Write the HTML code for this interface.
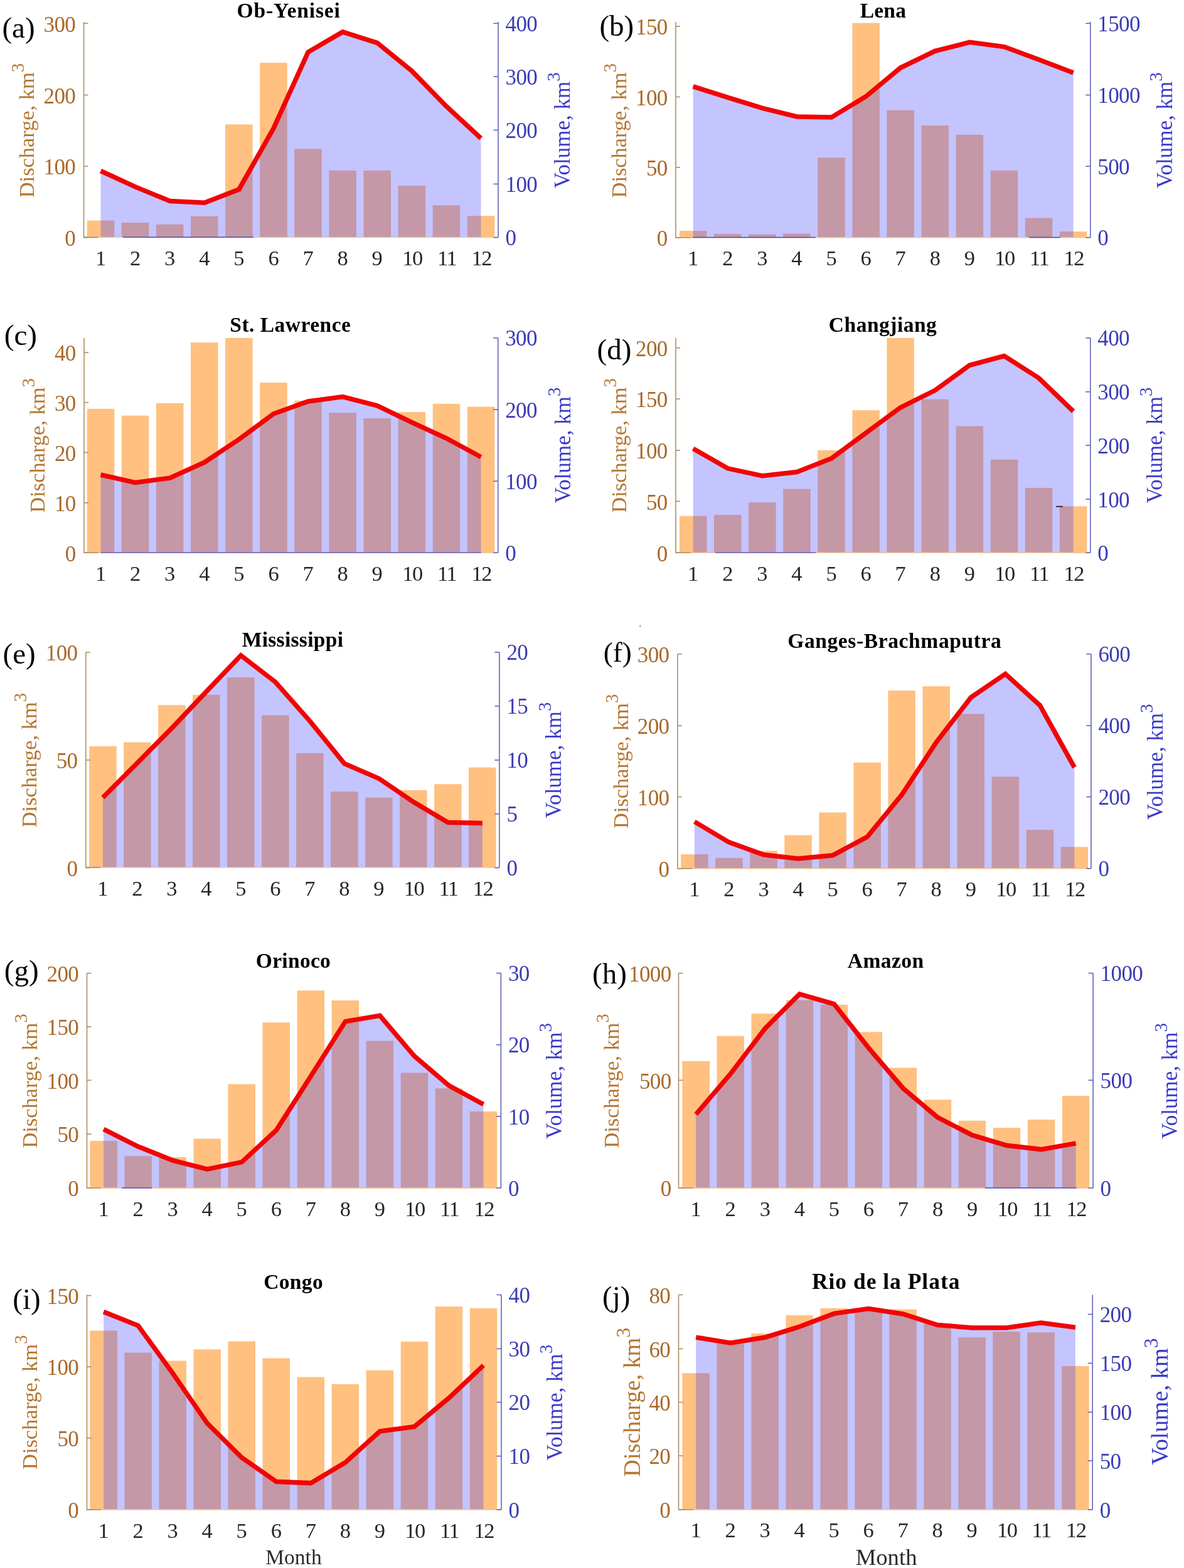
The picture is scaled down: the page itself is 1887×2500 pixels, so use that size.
<!DOCTYPE html>
<html lang="en"><head><meta charset="utf-8"><title>River discharge and volume by month</title>
<style>
html,body{margin:0;padding:0;background:#fff;}
svg{display:block;}
text{font-family:"Liberation Serif","DejaVu Serif",serif;}
.t{font-weight:bold;font-size:33.5px;fill:#000;text-anchor:middle;}
.g{font-size:47px;fill:#000;}
.x{font-size:34.5px;fill:#262626;text-anchor:middle;}
.l{font-size:35px;letter-spacing:-0.6px;fill:#a9692a;text-anchor:end;}
.r{font-size:35px;letter-spacing:-0.6px;fill:#3c3cb4;text-anchor:start;}
.yl{font-size:34.4px;fill:#b47630;text-anchor:middle;}
.yr{font-size:35px;fill:#3a3ac8;text-anchor:middle;}
.m{font-size:35px;fill:#2a2a2a;text-anchor:middle;}
.s{font-size:29px;}
</style></head><body>
<svg width="1887" height="2500" viewBox="0 0 1887 2500">
<rect width="1887" height="2500" fill="#fff"/>
<g>
<rect x="138.8" y="351.6" width="43.5" height="26.8" fill="#ffc080"/>
<rect x="193.8" y="355" width="43.5" height="23.4" fill="#ffc080"/>
<rect x="248.9" y="357.8" width="43.5" height="20.6" fill="#ffc080"/>
<rect x="304" y="344.8" width="43.5" height="33.6" fill="#ffc080"/>
<rect x="359.1" y="198.4" width="43.5" height="180" fill="#ffc080"/>
<rect x="414.2" y="100.1" width="43.5" height="278.3" fill="#ffc080"/>
<rect x="469.3" y="237.4" width="43.5" height="141" fill="#ffc080"/>
<rect x="524.4" y="271.9" width="43.5" height="106.5" fill="#ffc080"/>
<rect x="579.5" y="271.9" width="43.5" height="106.5" fill="#ffc080"/>
<rect x="634.6" y="296.2" width="43.5" height="82.2" fill="#ffc080"/>
<rect x="689.7" y="327.3" width="43.5" height="51.1" fill="#ffc080"/>
<rect x="744.8" y="344.2" width="43.5" height="34.2" fill="#ffc080"/>
<polygon points="160.5,378.4 160.5,272.5 215.6,297.9 270.7,320.5 325.8,323.3 380.9,301.9 436,204.6 491,83.1 546.1,50.9 601.2,68.4 656.3,113.1 711.4,169.6 766.5,220.5 766.5,378.4" fill="rgba(60,60,255,0.30)"/>
<path d="M133.5 378.4H794" stroke="#f3c596" stroke-width="1.4"/>
<path d="M133.5 35V378.4H156.5" fill="none" stroke="#b08d60" stroke-width="1.6"/>
<path d="M794 35V378.4" fill="none" stroke="#6262bc" stroke-width="1.6"/>
<path d="M196 378.2H404" stroke="#3434c8" stroke-opacity="0.85" stroke-width="1.4"/>
<path d="M133.5 378.7h7" stroke="#b08d60" stroke-width="1.6"/>
<text class="l" x="120.2" y="391.9">0</text>
<path d="M133.5 265.1h7" stroke="#b08d60" stroke-width="1.6"/>
<text class="l" x="120.2" y="278.3">100</text>
<path d="M133.5 151.5h7" stroke="#b08d60" stroke-width="1.6"/>
<text class="l" x="120.2" y="164.7">200</text>
<path d="M133.5 37.3h7" stroke="#b08d60" stroke-width="1.6"/>
<text class="l" x="120.2" y="50.5">300</text>
<path d="M794 378.7h-7.5" stroke="#6262bc" stroke-width="1.6"/>
<text class="r" x="805.5" y="391.2">0</text>
<path d="M794 293.4h-7.5" stroke="#6262bc" stroke-width="1.6"/>
<text class="r" x="805.5" y="305.9">100</text>
<path d="M794 207.5h-7.5" stroke="#6262bc" stroke-width="1.6"/>
<text class="r" x="805.5" y="220">200</text>
<path d="M794 122.1h-7.5" stroke="#6262bc" stroke-width="1.6"/>
<text class="r" x="805.5" y="134.6">300</text>
<path d="M794 37.3h-7.5" stroke="#6262bc" stroke-width="1.6"/>
<text class="r" x="805.5" y="49.8">400</text>
<polyline points="160.5,272.5 215.6,297.9 270.7,320.5 325.8,323.3 380.9,301.9 436,204.6 491,83.1 546.1,50.9 601.2,68.4 656.3,113.1 711.4,169.6 766.5,220.5" fill="none" stroke="#f00505" stroke-width="7.5" stroke-linejoin="miter" stroke-linecap="butt"/>
<text class="x" x="160.5" y="423.1">1</text>
<text class="x" x="215.6" y="423.1">2</text>
<text class="x" x="270.7" y="423.1">3</text>
<text class="x" x="325.8" y="423.1">4</text>
<text class="x" x="380.9" y="423.1">5</text>
<text class="x" x="436" y="423.1">6</text>
<text class="x" x="491" y="423.1">7</text>
<text class="x" x="546.1" y="423.1">8</text>
<text class="x" x="601.2" y="423.1">9</text>
<text class="x" letter-spacing="-1.5" x="657" y="423.1">10</text>
<text class="x" letter-spacing="-1.5" x="712.1" y="423.1">11</text>
<text class="x" letter-spacing="-1.5" x="767.2" y="423.1">12</text>
<text class="t" style="letter-spacing:0.88px;" x="460.2" y="27.7">Ob-Yenisei</text>
<text class="g" x="3.4" y="60">(a)</text>
<text class="yl" transform="translate(54.2 208) rotate(-90)">Discharge, km<tspan class="s" dy="-16">3</tspan></text>
<text class="yr" transform="translate(908 207.7) rotate(-90)">Volume, km<tspan class="s" dy="-16">3</tspan></text>
</g>
<g>
<rect x="1083" y="368" width="43.5" height="10.7" fill="#ffc080"/>
<rect x="1138" y="373.1" width="43.5" height="5.6" fill="#ffc080"/>
<rect x="1193.1" y="373.6" width="43.5" height="5.1" fill="#ffc080"/>
<rect x="1248.2" y="372.5" width="43.5" height="6.2" fill="#ffc080"/>
<rect x="1303.3" y="251.5" width="43.5" height="127.2" fill="#ffc080"/>
<rect x="1358.4" y="36.7" width="43.5" height="342" fill="#ffc080"/>
<rect x="1413.4" y="175.8" width="43.5" height="202.9" fill="#ffc080"/>
<rect x="1468.5" y="200.1" width="43.5" height="178.6" fill="#ffc080"/>
<rect x="1523.6" y="214.8" width="43.5" height="163.9" fill="#ffc080"/>
<rect x="1578.7" y="271.9" width="43.5" height="106.8" fill="#ffc080"/>
<rect x="1633.8" y="347.6" width="43.5" height="31.1" fill="#ffc080"/>
<rect x="1688.8" y="369.1" width="43.5" height="9.6" fill="#ffc080"/>
<polygon points="1104.7,378.7 1104.7,137.9 1159.8,155.4 1214.9,172.4 1269.9,186 1325,187.1 1380.1,153.8 1435.2,108 1490.3,81.4 1545.4,67.3 1600.4,74.6 1655.5,95 1710.6,115.9 1710.6,378.7" fill="rgba(60,60,255,0.30)"/>
<path d="M1077 378.7H1737.8" stroke="#f3c596" stroke-width="1.4"/>
<path d="M1077 35V378.7H1100.7" fill="none" stroke="#b08d60" stroke-width="1.6"/>
<path d="M1737.8 35V378.7" fill="none" stroke="#6262bc" stroke-width="1.6"/>
<path d="M1104 378.5H1300" stroke="#3434c8" stroke-opacity="0.85" stroke-width="1.4"/>
<path d="M1640 378.5H1690" stroke="#3434c8" stroke-opacity="0.85" stroke-width="1.4"/>
<path d="M1077 378.7h7" stroke="#b08d60" stroke-width="1.6"/>
<text class="l" x="1063.7" y="391.9">0</text>
<path d="M1077 266.9h7" stroke="#b08d60" stroke-width="1.6"/>
<text class="l" x="1063.7" y="280.1">50</text>
<path d="M1077 154.5h7" stroke="#b08d60" stroke-width="1.6"/>
<text class="l" x="1063.7" y="167.7">100</text>
<path d="M1077 42h7" stroke="#b08d60" stroke-width="1.6"/>
<text class="l" x="1063.7" y="55.2">150</text>
<path d="M1737.8 378.7h-7.5" stroke="#6262bc" stroke-width="1.6"/>
<text class="r" x="1749.3" y="391.2">0</text>
<path d="M1737.8 265.1h-7.5" stroke="#6262bc" stroke-width="1.6"/>
<text class="r" x="1749.3" y="277.6">500</text>
<path d="M1737.8 151.5h-7.5" stroke="#6262bc" stroke-width="1.6"/>
<text class="r" x="1749.3" y="164">1000</text>
<path d="M1737.8 37.3h-7.5" stroke="#6262bc" stroke-width="1.6"/>
<text class="r" x="1749.3" y="49.8">1500</text>
<polyline points="1104.7,137.9 1159.8,155.4 1214.9,172.4 1269.9,186 1325,187.1 1380.1,153.8 1435.2,108 1490.3,81.4 1545.4,67.3 1600.4,74.6 1655.5,95 1710.6,115.9" fill="none" stroke="#f00505" stroke-width="7.5" stroke-linejoin="miter" stroke-linecap="butt"/>
<text class="x" x="1104.7" y="423.4">1</text>
<text class="x" x="1159.8" y="423.4">2</text>
<text class="x" x="1214.9" y="423.4">3</text>
<text class="x" x="1269.9" y="423.4">4</text>
<text class="x" x="1325" y="423.4">5</text>
<text class="x" x="1380.1" y="423.4">6</text>
<text class="x" x="1435.2" y="423.4">7</text>
<text class="x" x="1490.3" y="423.4">8</text>
<text class="x" x="1545.4" y="423.4">9</text>
<text class="x" letter-spacing="-1.5" x="1601.1" y="423.4">10</text>
<text class="x" letter-spacing="-1.5" x="1656.2" y="423.4">11</text>
<text class="x" letter-spacing="-1.5" x="1711.3" y="423.4">12</text>
<text class="t" style="letter-spacing:0.23px;" x="1407.4" y="27.7">Lena</text>
<text class="g" x="955.4" y="57">(b)</text>
<text class="yl" transform="translate(997.7 208.2) rotate(-90)">Discharge, km<tspan class="s" dy="-16">3</tspan></text>
<text class="yr" transform="translate(1868.3 207.8) rotate(-90)">Volume, km<tspan class="s" dy="-16">3</tspan></text>
</g>
<g>
<rect x="138.8" y="651.8" width="43.5" height="229.5" fill="#ffc080"/>
<rect x="193.8" y="662.6" width="43.5" height="218.7" fill="#ffc080"/>
<rect x="248.9" y="642.8" width="43.5" height="238.5" fill="#ffc080"/>
<rect x="304" y="546.1" width="43.5" height="335.2" fill="#ffc080"/>
<rect x="359.1" y="538.8" width="43.5" height="342.5" fill="#ffc080"/>
<rect x="414.2" y="610" width="43.5" height="271.3" fill="#ffc080"/>
<rect x="469.3" y="638.8" width="43.5" height="242.5" fill="#ffc080"/>
<rect x="524.4" y="658.1" width="43.5" height="223.2" fill="#ffc080"/>
<rect x="579.5" y="667.1" width="43.5" height="214.2" fill="#ffc080"/>
<rect x="634.6" y="656.9" width="43.5" height="224.4" fill="#ffc080"/>
<rect x="689.7" y="643.9" width="43.5" height="237.4" fill="#ffc080"/>
<rect x="744.8" y="648.5" width="43.5" height="232.8" fill="#ffc080"/>
<polygon points="160.5,881.3 160.5,757 215.6,769.4 270.7,762.1 325.8,737.2 380.9,700.5 436,659.8 491,640 546.1,632.6 601.2,646.8 656.3,673.3 711.4,698.8 766.5,728.7 766.5,881.3" fill="rgba(60,60,255,0.30)"/>
<path d="M134 881.3H793.7" stroke="#f3c596" stroke-width="1.4"/>
<path d="M134 538.8V881.3H156.5" fill="none" stroke="#b08d60" stroke-width="1.6"/>
<path d="M793.7 538.8V881.3" fill="none" stroke="#6262bc" stroke-width="1.6"/>
<path d="M160.5 881.1H766.5" stroke="#3434c8" stroke-opacity="0.85" stroke-width="1.4"/>
<path d="M134 881.3h7" stroke="#b08d60" stroke-width="1.6"/>
<text class="l" x="120.7" y="894.5">0</text>
<path d="M134 801.6h7" stroke="#b08d60" stroke-width="1.6"/>
<text class="l" x="120.7" y="814.8">10</text>
<path d="M134 721.4h7" stroke="#b08d60" stroke-width="1.6"/>
<text class="l" x="120.7" y="734.6">20</text>
<path d="M134 641.7h7" stroke="#b08d60" stroke-width="1.6"/>
<text class="l" x="120.7" y="654.9">30</text>
<path d="M134 562h7" stroke="#b08d60" stroke-width="1.6"/>
<text class="l" x="120.7" y="575.2">40</text>
<path d="M793.7 881.3h-7.5" stroke="#6262bc" stroke-width="1.6"/>
<text class="r" x="805.2" y="893.8">0</text>
<path d="M793.7 767.2h-7.5" stroke="#6262bc" stroke-width="1.6"/>
<text class="r" x="805.2" y="779.7">100</text>
<path d="M793.7 653h-7.5" stroke="#6262bc" stroke-width="1.6"/>
<text class="r" x="805.2" y="665.5">200</text>
<path d="M793.7 538.8h-7.5" stroke="#6262bc" stroke-width="1.6"/>
<text class="r" x="805.2" y="551.3">300</text>
<polyline points="160.5,757 215.6,769.4 270.7,762.1 325.8,737.2 380.9,700.5 436,659.8 491,640 546.1,632.6 601.2,646.8 656.3,673.3 711.4,698.8 766.5,728.7" fill="none" stroke="#f00505" stroke-width="7.5" stroke-linejoin="miter" stroke-linecap="butt"/>
<text class="x" x="160.5" y="926">1</text>
<text class="x" x="215.6" y="926">2</text>
<text class="x" x="270.7" y="926">3</text>
<text class="x" x="325.8" y="926">4</text>
<text class="x" x="380.9" y="926">5</text>
<text class="x" x="436" y="926">6</text>
<text class="x" x="491" y="926">7</text>
<text class="x" x="546.1" y="926">8</text>
<text class="x" x="601.2" y="926">9</text>
<text class="x" letter-spacing="-1.5" x="657" y="926">10</text>
<text class="x" letter-spacing="-1.5" x="712.1" y="926">11</text>
<text class="x" letter-spacing="-1.5" x="767.2" y="926">12</text>
<text class="t" style="letter-spacing:0.48px;" x="462.9" y="528.6">St. Lawrence</text>
<text class="g" x="6.8" y="549.8">(c)</text>
<text class="yl" transform="translate(71.4 710.3) rotate(-90)">Discharge, km<tspan class="s" dy="-16">3</tspan></text>
<text class="yr" transform="translate(909.1 710) rotate(-90)">Volume, km<tspan class="s" dy="-16">3</tspan></text>
</g>
<g>
<rect x="1083" y="822.6" width="43.5" height="58.7" fill="#ffc080"/>
<rect x="1138" y="820.9" width="43.5" height="60.4" fill="#ffc080"/>
<rect x="1193.1" y="801.1" width="43.5" height="80.2" fill="#ffc080"/>
<rect x="1248.2" y="779.6" width="43.5" height="101.7" fill="#ffc080"/>
<rect x="1303.3" y="718" width="43.5" height="163.3" fill="#ffc080"/>
<rect x="1358.4" y="654.1" width="43.5" height="227.2" fill="#ffc080"/>
<rect x="1413.4" y="538.8" width="43.5" height="342.5" fill="#ffc080"/>
<rect x="1468.5" y="636.6" width="43.5" height="244.7" fill="#ffc080"/>
<rect x="1523.6" y="679.5" width="43.5" height="201.8" fill="#ffc080"/>
<rect x="1578.7" y="732.7" width="43.5" height="148.6" fill="#ffc080"/>
<rect x="1633.8" y="777.9" width="43.5" height="103.4" fill="#ffc080"/>
<rect x="1688.8" y="807.3" width="43.5" height="74" fill="#ffc080"/>
<polygon points="1104.7,881.3 1104.7,715.2 1159.8,746.8 1214.9,758.7 1269.9,752.5 1325,731 1380.1,690.3 1435.2,649.6 1490.3,622.4 1545.4,582.3 1600.4,567.6 1655.5,602.7 1710.6,655.8 1710.6,881.3" fill="rgba(60,60,255,0.30)"/>
<path d="M1077 881.3H1737.8" stroke="#f3c596" stroke-width="1.4"/>
<path d="M1077 538.8V881.3H1100.7" fill="none" stroke="#b08d60" stroke-width="1.6"/>
<path d="M1737.8 538.8V881.3" fill="none" stroke="#6262bc" stroke-width="1.6"/>
<path d="M1140 881.1H1300" stroke="#3434c8" stroke-opacity="0.85" stroke-width="1.4"/>
<path d="M1077 881.3h7" stroke="#b08d60" stroke-width="1.6"/>
<text class="l" x="1063.7" y="894.5">0</text>
<path d="M1077 799.4h7" stroke="#b08d60" stroke-width="1.6"/>
<text class="l" x="1063.7" y="812.6">50</text>
<path d="M1077 718h7" stroke="#b08d60" stroke-width="1.6"/>
<text class="l" x="1063.7" y="731.2">100</text>
<path d="M1077 636h7" stroke="#b08d60" stroke-width="1.6"/>
<text class="l" x="1063.7" y="649.2">150</text>
<path d="M1077 554.6h7" stroke="#b08d60" stroke-width="1.6"/>
<text class="l" x="1063.7" y="567.8">200</text>
<path d="M1737.8 881.3h-7.5" stroke="#6262bc" stroke-width="1.6"/>
<text class="r" x="1749.3" y="893.8">0</text>
<path d="M1737.8 796h-7.5" stroke="#6262bc" stroke-width="1.6"/>
<text class="r" x="1749.3" y="808.5">100</text>
<path d="M1737.8 710.1h-7.5" stroke="#6262bc" stroke-width="1.6"/>
<text class="r" x="1749.3" y="722.6">200</text>
<path d="M1737.8 624.7h-7.5" stroke="#6262bc" stroke-width="1.6"/>
<text class="r" x="1749.3" y="637.2">300</text>
<path d="M1737.8 538.8h-7.5" stroke="#6262bc" stroke-width="1.6"/>
<text class="r" x="1749.3" y="551.3">400</text>
<polyline points="1104.7,715.2 1159.8,746.8 1214.9,758.7 1269.9,752.5 1325,731 1380.1,690.3 1435.2,649.6 1490.3,622.4 1545.4,582.3 1600.4,567.6 1655.5,602.7 1710.6,655.8" fill="none" stroke="#f00505" stroke-width="7.5" stroke-linejoin="miter" stroke-linecap="butt"/>
<text class="x" x="1104.7" y="926">1</text>
<text class="x" x="1159.8" y="926">2</text>
<text class="x" x="1214.9" y="926">3</text>
<text class="x" x="1269.9" y="926">4</text>
<text class="x" x="1325" y="926">5</text>
<text class="x" x="1380.1" y="926">6</text>
<text class="x" x="1435.2" y="926">7</text>
<text class="x" x="1490.3" y="926">8</text>
<text class="x" x="1545.4" y="926">9</text>
<text class="x" letter-spacing="-1.5" x="1601.1" y="926">10</text>
<text class="x" letter-spacing="-1.5" x="1656.2" y="926">11</text>
<text class="x" letter-spacing="-1.5" x="1711.3" y="926">12</text>
<text class="t" style="letter-spacing:0.5px;" x="1407.1" y="528.6">Changjiang</text>
<text class="g" x="951.5" y="572.8">(d)</text>
<text class="yl" transform="translate(997.7 710.3) rotate(-90)">Discharge, km<tspan class="s" dy="-16">3</tspan></text>
<text class="yr" transform="translate(1851.8 710) rotate(-90)">Volume, km<tspan class="s" dy="-16">3</tspan></text>
<path d="M1683 807.6h11" stroke="#111" stroke-width="1.6"/>
</g>
<g>
<rect x="142.2" y="1189.7" width="43.5" height="193.4" fill="#ffc080"/>
<rect x="197.1" y="1183.5" width="43.5" height="199.6" fill="#ffc080"/>
<rect x="252.1" y="1124.1" width="43.5" height="259" fill="#ffc080"/>
<rect x="307.1" y="1107.8" width="43.5" height="275.3" fill="#ffc080"/>
<rect x="362.1" y="1080.1" width="43.5" height="303" fill="#ffc080"/>
<rect x="417.1" y="1140.5" width="43.5" height="242.6" fill="#ffc080"/>
<rect x="472.1" y="1201" width="43.5" height="182.1" fill="#ffc080"/>
<rect x="527.1" y="1262.1" width="43.5" height="121" fill="#ffc080"/>
<rect x="582.1" y="1271.7" width="43.5" height="111.4" fill="#ffc080"/>
<rect x="637.1" y="1259.8" width="43.5" height="123.3" fill="#ffc080"/>
<rect x="692.1" y="1250.2" width="43.5" height="132.9" fill="#ffc080"/>
<rect x="747" y="1223.6" width="43.5" height="159.5" fill="#ffc080"/>
<polygon points="163.9,1383.1 163.9,1271.7 218.9,1216.3 273.9,1160.9 328.9,1102.7 383.9,1045 438.9,1087.4 493.8,1149.6 548.8,1217.4 603.8,1241.2 658.8,1278.5 713.8,1311.2 768.8,1312.4 768.8,1383.1" fill="rgba(60,60,255,0.30)"/>
<path d="M136.8 1383.1H795.9" stroke="#f3c596" stroke-width="1.4"/>
<path d="M136.8 1039.9V1383.1H159.9" fill="none" stroke="#b08d60" stroke-width="1.6"/>
<path d="M795.9 1039.9V1383.1" fill="none" stroke="#6262bc" stroke-width="1.6"/>
<path d="M136.8 1383.6h7" stroke="#b08d60" stroke-width="1.6"/>
<text class="l" x="123.5" y="1396.8">0</text>
<path d="M136.8 1211.8h7" stroke="#b08d60" stroke-width="1.6"/>
<text class="l" x="123.5" y="1225">50</text>
<path d="M136.8 1039.9h7" stroke="#b08d60" stroke-width="1.6"/>
<text class="l" x="123.5" y="1053.1">100</text>
<path d="M795.9 1383.6h-7.5" stroke="#6262bc" stroke-width="1.6"/>
<text class="r" x="807.4" y="1396.1">0</text>
<path d="M795.9 1297.7h-7.5" stroke="#6262bc" stroke-width="1.6"/>
<text class="r" x="807.4" y="1310.2">5</text>
<path d="M795.9 1211.8h-7.5" stroke="#6262bc" stroke-width="1.6"/>
<text class="r" x="807.4" y="1224.3">10</text>
<path d="M795.9 1125.8h-7.5" stroke="#6262bc" stroke-width="1.6"/>
<text class="r" x="807.4" y="1138.3">15</text>
<path d="M795.9 1039.9h-7.5" stroke="#6262bc" stroke-width="1.6"/>
<text class="r" x="807.4" y="1052.4">20</text>
<polyline points="163.9,1271.7 218.9,1216.3 273.9,1160.9 328.9,1102.7 383.9,1045 438.9,1087.4 493.8,1149.6 548.8,1217.4 603.8,1241.2 658.8,1278.5 713.8,1311.2 768.8,1312.4" fill="none" stroke="#f00505" stroke-width="7.5" stroke-linejoin="miter" stroke-linecap="butt"/>
<text class="x" x="163.9" y="1427.8">1</text>
<text class="x" x="218.9" y="1427.8">2</text>
<text class="x" x="273.9" y="1427.8">3</text>
<text class="x" x="328.9" y="1427.8">4</text>
<text class="x" x="383.9" y="1427.8">5</text>
<text class="x" x="438.9" y="1427.8">6</text>
<text class="x" x="493.8" y="1427.8">7</text>
<text class="x" x="548.8" y="1427.8">8</text>
<text class="x" x="603.8" y="1427.8">9</text>
<text class="x" letter-spacing="-1.5" x="659.5" y="1427.8">10</text>
<text class="x" letter-spacing="-1.5" x="714.5" y="1427.8">11</text>
<text class="x" letter-spacing="-1.5" x="769.5" y="1427.8">12</text>
<text class="t" style="letter-spacing:0.3px;" x="466.5" y="1031.1">Mississippi</text>
<text class="g" x="4.5" y="1057.7">(e)</text>
<text class="yl" transform="translate(57.5 1212) rotate(-90)">Discharge, km<tspan class="s" dy="-16">3</tspan></text>
<text class="yr" transform="translate(894.4 1212.1) rotate(-90)">Volume, km<tspan class="s" dy="-16">3</tspan></text>
</g>
<g>
<rect x="1085.2" y="1362.1" width="43.5" height="22.6" fill="#ffc080"/>
<rect x="1140.2" y="1367.8" width="43.5" height="16.9" fill="#ffc080"/>
<rect x="1195.2" y="1356.5" width="43.5" height="28.2" fill="#ffc080"/>
<rect x="1250.3" y="1331.6" width="43.5" height="53.1" fill="#ffc080"/>
<rect x="1305.3" y="1295.4" width="43.5" height="89.3" fill="#ffc080"/>
<rect x="1360.4" y="1215.7" width="43.5" height="169" fill="#ffc080"/>
<rect x="1415.4" y="1101" width="43.5" height="283.7" fill="#ffc080"/>
<rect x="1470.5" y="1094.2" width="43.5" height="290.5" fill="#ffc080"/>
<rect x="1525.5" y="1138.3" width="43.5" height="246.4" fill="#ffc080"/>
<rect x="1580.6" y="1238.3" width="43.5" height="146.4" fill="#ffc080"/>
<rect x="1635.6" y="1323.1" width="43.5" height="61.6" fill="#ffc080"/>
<rect x="1690.6" y="1350.3" width="43.5" height="34.4" fill="#ffc080"/>
<polygon points="1106.9,1384.7 1106.9,1310.1 1161.9,1342.9 1217,1362.7 1272,1368.9 1327.1,1363.8 1382.1,1334.4 1437.2,1267.2 1492.2,1183.5 1547.3,1112.1 1602.3,1074.5 1657.4,1124.7 1712.4,1223.6 1712.4,1384.7" fill="rgba(60,60,255,0.30)"/>
<path d="M1079.8 1384.7H1738.9" stroke="#f3c596" stroke-width="1.4"/>
<path d="M1079.8 1042.7V1384.7H1102.9" fill="none" stroke="#b08d60" stroke-width="1.6"/>
<path d="M1738.9 1042.7V1384.7" fill="none" stroke="#6262bc" stroke-width="1.6"/>
<path d="M1079.8 1384.7h7" stroke="#b08d60" stroke-width="1.6"/>
<text class="l" x="1066.5" y="1397.9">0</text>
<path d="M1079.8 1270.5h7" stroke="#b08d60" stroke-width="1.6"/>
<text class="l" x="1066.5" y="1283.7">100</text>
<path d="M1079.8 1156.9h7" stroke="#b08d60" stroke-width="1.6"/>
<text class="l" x="1066.5" y="1170.1">200</text>
<path d="M1079.8 1042.7h7" stroke="#b08d60" stroke-width="1.6"/>
<text class="l" x="1066.5" y="1055.9">300</text>
<path d="M1738.9 1384.7h-7.5" stroke="#6262bc" stroke-width="1.6"/>
<text class="r" x="1750.4" y="1397.2">0</text>
<path d="M1738.9 1270.5h-7.5" stroke="#6262bc" stroke-width="1.6"/>
<text class="r" x="1750.4" y="1283">200</text>
<path d="M1738.9 1156.9h-7.5" stroke="#6262bc" stroke-width="1.6"/>
<text class="r" x="1750.4" y="1169.4">400</text>
<path d="M1738.9 1042.7h-7.5" stroke="#6262bc" stroke-width="1.6"/>
<text class="r" x="1750.4" y="1055.2">600</text>
<polyline points="1106.9,1310.1 1161.9,1342.9 1217,1362.7 1272,1368.9 1327.1,1363.8 1382.1,1334.4 1437.2,1267.2 1492.2,1183.5 1547.3,1112.1 1602.3,1074.5 1657.4,1124.7 1712.4,1223.6" fill="none" stroke="#f00505" stroke-width="7.5" stroke-linejoin="miter" stroke-linecap="butt"/>
<text class="x" x="1106.9" y="1429.4">1</text>
<text class="x" x="1161.9" y="1429.4">2</text>
<text class="x" x="1217" y="1429.4">3</text>
<text class="x" x="1272" y="1429.4">4</text>
<text class="x" x="1327.1" y="1429.4">5</text>
<text class="x" x="1382.1" y="1429.4">6</text>
<text class="x" x="1437.2" y="1429.4">7</text>
<text class="x" x="1492.2" y="1429.4">8</text>
<text class="x" x="1547.3" y="1429.4">9</text>
<text class="x" letter-spacing="-1.5" x="1603" y="1429.4">10</text>
<text class="x" letter-spacing="-1.5" x="1658.1" y="1429.4">11</text>
<text class="x" letter-spacing="-1.5" x="1713.1" y="1429.4">12</text>
<text class="t" style="letter-spacing:0.62px;" x="1425.8" y="1033.4">Ganges-Brachmaputra</text>
<text class="g" style="font-size:45px" x="961.7" y="1055.3">(f)</text>
<text class="yl" transform="translate(1000.5 1213.7) rotate(-90)">Discharge, km<tspan class="s" dy="-16">3</tspan></text>
<text class="yr" transform="translate(1852.9 1214.7) rotate(-90)">Volume, km<tspan class="s" dy="-16">3</tspan></text>
<path d="M1020.2 996.5v3.2" stroke="#555" stroke-width="1"/>
</g>
<g>
<rect x="143.3" y="1819" width="43.5" height="75.2" fill="#ffc080"/>
<rect x="198.4" y="1843.3" width="43.5" height="50.9" fill="#ffc080"/>
<rect x="253.4" y="1845" width="43.5" height="49.2" fill="#ffc080"/>
<rect x="308.5" y="1815.6" width="43.5" height="78.6" fill="#ffc080"/>
<rect x="363.5" y="1728.5" width="43.5" height="165.7" fill="#ffc080"/>
<rect x="418.5" y="1630.2" width="43.5" height="264" fill="#ffc080"/>
<rect x="473.6" y="1579.3" width="43.5" height="314.9" fill="#ffc080"/>
<rect x="528.6" y="1595.1" width="43.5" height="299.1" fill="#ffc080"/>
<rect x="583.6" y="1659.6" width="43.5" height="234.6" fill="#ffc080"/>
<rect x="638.7" y="1710.5" width="43.5" height="183.7" fill="#ffc080"/>
<rect x="693.7" y="1735.3" width="43.5" height="158.9" fill="#ffc080"/>
<rect x="748.8" y="1772.1" width="43.5" height="122.1" fill="#ffc080"/>
<polygon points="165.1,1894.2 165.1,1800.3 220.1,1828 275.2,1850.1 330.2,1864.2 385.2,1852.9 440.3,1802 495.3,1716.1 550.4,1628.6 605.4,1619.4 660.4,1683.9 715.5,1730.8 770.5,1760.8 770.5,1894.2" fill="rgba(60,60,255,0.30)"/>
<path d="M138.5 1894.2H798.4" stroke="#f3c596" stroke-width="1.4"/>
<path d="M138.5 1551.6V1894.2H161.1" fill="none" stroke="#b08d60" stroke-width="1.6"/>
<path d="M798.4 1551.6V1894.2" fill="none" stroke="#6262bc" stroke-width="1.6"/>
<path d="M194 1894H242" stroke="#3434c8" stroke-opacity="0.85" stroke-width="1.4"/>
<path d="M138.5 1894.2h7" stroke="#b08d60" stroke-width="1.6"/>
<text class="l" x="125.2" y="1907.4">0</text>
<path d="M138.5 1808.2h7" stroke="#b08d60" stroke-width="1.6"/>
<text class="l" x="125.2" y="1821.4">50</text>
<path d="M138.5 1722.3h7" stroke="#b08d60" stroke-width="1.6"/>
<text class="l" x="125.2" y="1735.5">100</text>
<path d="M138.5 1637h7" stroke="#b08d60" stroke-width="1.6"/>
<text class="l" x="125.2" y="1650.2">150</text>
<path d="M138.5 1551.6h7" stroke="#b08d60" stroke-width="1.6"/>
<text class="l" x="125.2" y="1564.8">200</text>
<path d="M798.4 1894.2h-7.5" stroke="#6262bc" stroke-width="1.6"/>
<text class="r" x="809.9" y="1906.7">0</text>
<path d="M798.4 1780h-7.5" stroke="#6262bc" stroke-width="1.6"/>
<text class="r" x="809.9" y="1792.5">10</text>
<path d="M798.4 1665.8h-7.5" stroke="#6262bc" stroke-width="1.6"/>
<text class="r" x="809.9" y="1678.3">20</text>
<path d="M798.4 1551.6h-7.5" stroke="#6262bc" stroke-width="1.6"/>
<text class="r" x="809.9" y="1564.1">30</text>
<polyline points="165.1,1800.3 220.1,1828 275.2,1850.1 330.2,1864.2 385.2,1852.9 440.3,1802 495.3,1716.1 550.4,1628.6 605.4,1619.4 660.4,1683.9 715.5,1730.8 770.5,1760.8" fill="none" stroke="#f00505" stroke-width="7.5" stroke-linejoin="miter" stroke-linecap="butt"/>
<text class="x" x="165.1" y="1938.9">1</text>
<text class="x" x="220.1" y="1938.9">2</text>
<text class="x" x="275.2" y="1938.9">3</text>
<text class="x" x="330.2" y="1938.9">4</text>
<text class="x" x="385.2" y="1938.9">5</text>
<text class="x" x="440.3" y="1938.9">6</text>
<text class="x" x="495.3" y="1938.9">7</text>
<text class="x" x="550.4" y="1938.9">8</text>
<text class="x" x="605.4" y="1938.9">9</text>
<text class="x" letter-spacing="-1.5" x="661.1" y="1938.9">10</text>
<text class="x" letter-spacing="-1.5" x="716.2" y="1938.9">11</text>
<text class="x" letter-spacing="-1.5" x="771.2" y="1938.9">12</text>
<text class="t" style="letter-spacing:0.3px;" x="467.5" y="1542.8">Orinoco</text>
<text class="g" x="6.8" y="1563.3">(g)</text>
<text class="yl" transform="translate(59.2 1723.4) rotate(-90)">Discharge, km<tspan class="s" dy="-16">3</tspan></text>
<text class="yr" transform="translate(894.9 1723.5) rotate(-90)">Volume, km<tspan class="s" dy="-16">3</tspan></text>
</g>
<g>
<rect x="1087.5" y="1691.8" width="43.5" height="202.4" fill="#ffc080"/>
<rect x="1142.5" y="1651.7" width="43.5" height="242.5" fill="#ffc080"/>
<rect x="1197.5" y="1616.1" width="43.5" height="278.1" fill="#ffc080"/>
<rect x="1252.6" y="1594.6" width="43.5" height="299.6" fill="#ffc080"/>
<rect x="1307.6" y="1601.9" width="43.5" height="292.3" fill="#ffc080"/>
<rect x="1362.6" y="1645.4" width="43.5" height="248.8" fill="#ffc080"/>
<rect x="1417.7" y="1702.5" width="43.5" height="191.7" fill="#ffc080"/>
<rect x="1472.7" y="1753.4" width="43.5" height="140.8" fill="#ffc080"/>
<rect x="1527.7" y="1786.8" width="43.5" height="107.4" fill="#ffc080"/>
<rect x="1582.8" y="1798.1" width="43.5" height="96.1" fill="#ffc080"/>
<rect x="1637.8" y="1785.1" width="43.5" height="109.1" fill="#ffc080"/>
<rect x="1692.8" y="1747.2" width="43.5" height="147" fill="#ffc080"/>
<polygon points="1109.2,1894.2 1109.2,1776.6 1164.2,1712.2 1219.3,1639.8 1274.3,1585 1329.3,1600.8 1384.4,1670.9 1439.4,1735.3 1494.5,1781.7 1549.5,1809.9 1604.5,1826.3 1659.6,1832.6 1714.6,1822.9 1714.6,1894.2" fill="rgba(60,60,255,0.30)"/>
<path d="M1081.5 1894.2H1742.1" stroke="#f3c596" stroke-width="1.4"/>
<path d="M1081.5 1551.6V1894.2H1105.2" fill="none" stroke="#b08d60" stroke-width="1.6"/>
<path d="M1742.1 1551.6V1894.2" fill="none" stroke="#6262bc" stroke-width="1.6"/>
<path d="M1570 1894H1716" stroke="#3434c8" stroke-opacity="0.85" stroke-width="1.4"/>
<path d="M1081.5 1894.2h7" stroke="#b08d60" stroke-width="1.6"/>
<text class="l" x="1069.6" y="1907.4">0</text>
<path d="M1081.5 1722.3h7" stroke="#b08d60" stroke-width="1.6"/>
<text class="l" x="1069.6" y="1735.5">500</text>
<path d="M1081.5 1551.6h7" stroke="#b08d60" stroke-width="1.6"/>
<text class="l" x="1069.6" y="1564.8">1000</text>
<path d="M1742.1 1894.2h-7.5" stroke="#6262bc" stroke-width="1.6"/>
<text class="r" x="1753.6" y="1906.7">0</text>
<path d="M1742.1 1722.3h-7.5" stroke="#6262bc" stroke-width="1.6"/>
<text class="r" x="1753.6" y="1734.8">500</text>
<path d="M1742.1 1551.6h-7.5" stroke="#6262bc" stroke-width="1.6"/>
<text class="r" x="1753.6" y="1564.1">1000</text>
<polyline points="1109.2,1776.6 1164.2,1712.2 1219.3,1639.8 1274.3,1585 1329.3,1600.8 1384.4,1670.9 1439.4,1735.3 1494.5,1781.7 1549.5,1809.9 1604.5,1826.3 1659.6,1832.6 1714.6,1822.9" fill="none" stroke="#f00505" stroke-width="7.5" stroke-linejoin="miter" stroke-linecap="butt"/>
<text class="x" x="1109.2" y="1938.9">1</text>
<text class="x" x="1164.2" y="1938.9">2</text>
<text class="x" x="1219.3" y="1938.9">3</text>
<text class="x" x="1274.3" y="1938.9">4</text>
<text class="x" x="1329.3" y="1938.9">5</text>
<text class="x" x="1384.4" y="1938.9">6</text>
<text class="x" x="1439.4" y="1938.9">7</text>
<text class="x" x="1494.5" y="1938.9">8</text>
<text class="x" x="1549.5" y="1938.9">9</text>
<text class="x" letter-spacing="-1.5" x="1605.2" y="1938.9">10</text>
<text class="x" letter-spacing="-1.5" x="1660.3" y="1938.9">11</text>
<text class="x" letter-spacing="-1.5" x="1715.3" y="1938.9">12</text>
<text class="t" style="letter-spacing:0.48px;" x="1411.7" y="1542.8">Amazon</text>
<text class="g" x="944.1" y="1568.1">(h)</text>
<text class="yl" transform="translate(986.4 1723.4) rotate(-90)">Discharge, km<tspan class="s" dy="-16">3</tspan></text>
<text class="yr" transform="translate(1875.5 1723.5) rotate(-90)">Volume, km<tspan class="s" dy="-16">3</tspan></text>
</g>
<g>
<rect x="143.3" y="2121.5" width="43.5" height="285.5" fill="#ffc080"/>
<rect x="198.4" y="2156.6" width="43.5" height="250.4" fill="#ffc080"/>
<rect x="253.4" y="2169.6" width="43.5" height="237.4" fill="#ffc080"/>
<rect x="308.5" y="2151.5" width="43.5" height="255.5" fill="#ffc080"/>
<rect x="363.5" y="2138.5" width="43.5" height="268.5" fill="#ffc080"/>
<rect x="418.5" y="2165.6" width="43.5" height="241.4" fill="#ffc080"/>
<rect x="473.6" y="2195.6" width="43.5" height="211.4" fill="#ffc080"/>
<rect x="528.6" y="2206.9" width="43.5" height="200.1" fill="#ffc080"/>
<rect x="583.6" y="2184.8" width="43.5" height="222.2" fill="#ffc080"/>
<rect x="638.7" y="2139.1" width="43.5" height="267.9" fill="#ffc080"/>
<rect x="693.7" y="2083.1" width="43.5" height="323.9" fill="#ffc080"/>
<rect x="748.8" y="2085.9" width="43.5" height="321.1" fill="#ffc080"/>
<polygon points="165.1,2407 165.1,2091.6 220.1,2113.6 275.2,2189.4 330.2,2269.1 385.2,2323.9 440.3,2362.3 495.3,2364.6 550.4,2331.8 605.4,2282.1 660.4,2274.7 715.5,2228.9 770.5,2176.9 770.5,2407" fill="rgba(60,60,255,0.30)"/>
<path d="M138.5 2407H799" stroke="#f3c596" stroke-width="1.4"/>
<path d="M138.5 2064.4V2407H161.1" fill="none" stroke="#b08d60" stroke-width="1.6"/>
<path d="M799 2064.4V2407" fill="none" stroke="#6262bc" stroke-width="1.6"/>
<path d="M138.5 2407h7" stroke="#b08d60" stroke-width="1.6"/>
<text class="l" x="125.2" y="2420.2">0</text>
<path d="M138.5 2292.8h7" stroke="#b08d60" stroke-width="1.6"/>
<text class="l" x="125.2" y="2306">50</text>
<path d="M138.5 2179.2h7" stroke="#b08d60" stroke-width="1.6"/>
<text class="l" x="125.2" y="2192.4">100</text>
<path d="M138.5 2065.6h7" stroke="#b08d60" stroke-width="1.6"/>
<text class="l" x="125.2" y="2078.8">150</text>
<path d="M799 2407h-7.5" stroke="#6262bc" stroke-width="1.6"/>
<text class="r" x="810.5" y="2419.5">0</text>
<path d="M799 2321.6h-7.5" stroke="#6262bc" stroke-width="1.6"/>
<text class="r" x="810.5" y="2334.1">10</text>
<path d="M799 2235.7h-7.5" stroke="#6262bc" stroke-width="1.6"/>
<text class="r" x="810.5" y="2248.2">20</text>
<path d="M799 2150.4h-7.5" stroke="#6262bc" stroke-width="1.6"/>
<text class="r" x="810.5" y="2162.9">30</text>
<path d="M799 2064.4h-7.5" stroke="#6262bc" stroke-width="1.6"/>
<text class="r" x="810.5" y="2076.9">40</text>
<polyline points="165.1,2091.6 220.1,2113.6 275.2,2189.4 330.2,2269.1 385.2,2323.9 440.3,2362.3 495.3,2364.6 550.4,2331.8 605.4,2282.1 660.4,2274.7 715.5,2228.9 770.5,2176.9" fill="none" stroke="#f00505" stroke-width="7.5" stroke-linejoin="miter" stroke-linecap="butt"/>
<text class="x" x="165.1" y="2451.7">1</text>
<text class="x" x="220.1" y="2451.7">2</text>
<text class="x" x="275.2" y="2451.7">3</text>
<text class="x" x="330.2" y="2451.7">4</text>
<text class="x" x="385.2" y="2451.7">5</text>
<text class="x" x="440.3" y="2451.7">6</text>
<text class="x" x="495.3" y="2451.7">7</text>
<text class="x" x="550.4" y="2451.7">8</text>
<text class="x" x="605.4" y="2451.7">9</text>
<text class="x" letter-spacing="-1.5" x="661.1" y="2451.7">10</text>
<text class="x" letter-spacing="-1.5" x="716.2" y="2451.7">11</text>
<text class="x" letter-spacing="-1.5" x="771.2" y="2451.7">12</text>
<text class="t" style="letter-spacing:0.37px;" x="467.6" y="2054.6">Congo</text>
<text class="g" x="20.3" y="2086.7">(i)</text>
<text class="yl" transform="translate(59.2 2235.7) rotate(-90)">Discharge, km<tspan class="s" dy="-16">3</tspan></text>
<text class="yr" transform="translate(895.6 2236.3) rotate(-90)">Volume, km<tspan class="s" dy="-16">3</tspan></text>
<text class="m" style="font-size:33.5px" x="468" y="2493.5">Month</text>
</g>
<g>
<rect x="1087.5" y="2189.4" width="43.5" height="217.6" fill="#ffc080"/>
<rect x="1142.4" y="2142.4" width="43.5" height="264.6" fill="#ffc080"/>
<rect x="1197.4" y="2126.1" width="43.5" height="280.9" fill="#ffc080"/>
<rect x="1252.4" y="2097.2" width="43.5" height="309.8" fill="#ffc080"/>
<rect x="1307.4" y="2085.9" width="43.5" height="321.1" fill="#ffc080"/>
<rect x="1362.4" y="2085.9" width="43.5" height="321.1" fill="#ffc080"/>
<rect x="1417.3" y="2087.6" width="43.5" height="319.4" fill="#ffc080"/>
<rect x="1472.3" y="2110.2" width="43.5" height="296.8" fill="#ffc080"/>
<rect x="1527.3" y="2132.3" width="43.5" height="274.7" fill="#ffc080"/>
<rect x="1582.3" y="2123.2" width="43.5" height="283.8" fill="#ffc080"/>
<rect x="1637.3" y="2124.4" width="43.5" height="282.6" fill="#ffc080"/>
<rect x="1692.2" y="2178.1" width="43.5" height="228.9" fill="#ffc080"/>
<polygon points="1109.2,2407 1109.2,2132.3 1164.2,2141.3 1219.2,2132.3 1274.1,2115.3 1329.1,2094.4 1384.1,2086.5 1439.1,2095 1494.1,2112.5 1549.1,2117 1604,2117 1659,2109.1 1714,2116.4 1714,2407" fill="rgba(60,60,255,0.30)"/>
<path d="M1081.5 2407H1741.2" stroke="#f3c596" stroke-width="1.4"/>
<path d="M1081.5 2064.4V2407H1105.2" fill="none" stroke="#b08d60" stroke-width="1.6"/>
<path d="M1741.2 2064.4V2407" fill="none" stroke="#6262bc" stroke-width="1.6"/>
<path d="M1081.5 2407h7" stroke="#b08d60" stroke-width="1.6"/>
<text class="l" x="1068.2" y="2420.2">0</text>
<path d="M1081.5 2321.1h7" stroke="#b08d60" stroke-width="1.6"/>
<text class="l" x="1068.2" y="2334.3">20</text>
<path d="M1081.5 2235.7h7" stroke="#b08d60" stroke-width="1.6"/>
<text class="l" x="1068.2" y="2248.9">40</text>
<path d="M1081.5 2150.4h7" stroke="#b08d60" stroke-width="1.6"/>
<text class="l" x="1068.2" y="2163.6">60</text>
<path d="M1081.5 2064.4h7" stroke="#b08d60" stroke-width="1.6"/>
<text class="l" x="1068.2" y="2077.6">80</text>
<path d="M1741.2 2407h-7.5" stroke="#6262bc" stroke-width="1.6"/>
<text class="r" x="1752.7" y="2419.5">0</text>
<path d="M1741.2 2329h-7.5" stroke="#6262bc" stroke-width="1.6"/>
<text class="r" x="1752.7" y="2341.5">50</text>
<path d="M1741.2 2251.5h-7.5" stroke="#6262bc" stroke-width="1.6"/>
<text class="r" x="1752.7" y="2264">100</text>
<path d="M1741.2 2173.5h-7.5" stroke="#6262bc" stroke-width="1.6"/>
<text class="r" x="1752.7" y="2186">150</text>
<path d="M1741.2 2095.5h-7.5" stroke="#6262bc" stroke-width="1.6"/>
<text class="r" x="1752.7" y="2108">200</text>
<polyline points="1109.2,2132.3 1164.2,2141.3 1219.2,2132.3 1274.1,2115.3 1329.1,2094.4 1384.1,2086.5 1439.1,2095 1494.1,2112.5 1549.1,2117 1604,2117 1659,2109.1 1714,2116.4" fill="none" stroke="#f00505" stroke-width="7.5" stroke-linejoin="miter" stroke-linecap="butt"/>
<text class="x" x="1109.2" y="2450.5">1</text>
<text class="x" x="1164.2" y="2450.5">2</text>
<text class="x" x="1219.2" y="2450.5">3</text>
<text class="x" x="1274.1" y="2450.5">4</text>
<text class="x" x="1329.1" y="2450.5">5</text>
<text class="x" x="1384.1" y="2450.5">6</text>
<text class="x" x="1439.1" y="2450.5">7</text>
<text class="x" x="1494.1" y="2450.5">8</text>
<text class="x" x="1549.1" y="2450.5">9</text>
<text class="x" letter-spacing="-1.5" x="1604.7" y="2450.5">10</text>
<text class="x" letter-spacing="-1.5" x="1659.7" y="2450.5">11</text>
<text class="x" letter-spacing="-1.5" x="1714.7" y="2450.5">12</text>
<text class="t" style="letter-spacing:0.98px;font-size:35.5px;" x="1412.2" y="2055.1">Rio de la Plata</text>
<text class="g" x="960" y="2082.9">(j)</text>
<text class="yl" style="font-size:38.2px" transform="translate(1020.3 2235.7) rotate(-90)">Discharge, km<tspan class="s" style="font-size:32px" dy="-16">3</tspan></text>
<text class="yr" style="font-size:38.3px" transform="translate(1861.2 2234.8) rotate(-90)">Volume, km<tspan class="s" style="font-size:32px" dy="-16">3</tspan></text>
<text class="m" style="font-size:36.7px" x="1412.6" y="2494.7">Month</text>
</g>
</svg>
</body></html>
